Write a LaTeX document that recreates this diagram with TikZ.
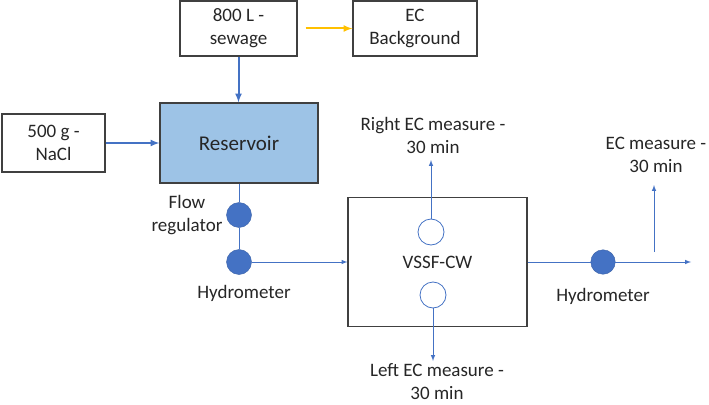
\documentclass[tikz,border=0pt]{standalone}
\usepackage{fontspec}
\setmainfont{Carlito}
\usetikzlibrary{arrows}
\definecolor{flowblue}{HTML}{4472C4}
\definecolor{resblue}{HTML}{9DC3E6}
\definecolor{bgorange}{HTML}{FFC000}
\definecolor{boxgray}{HTML}{404040}

\begin{document}
\begin{tikzpicture}[x=1pt,y=-1pt]
		\tikzset{txt/.style={font=\fontsize{19}{23}\selectfont,text=black!85,align=center,inner sep=0pt},
			box/.style={txt,draw=boxgray,line width=1.2pt},
			pipe/.style={flowblue,line width=1pt},
			feed/.style={flowblue,line width=2pt,-latex},
			dot/.style={circle,fill=flowblue,draw=flowblue!85!black,minimum size=25pt,inner sep=0pt},
			port/.style={circle,draw=flowblue,fill=white,line width=0.8pt,minimum size=26pt,inner sep=0pt}};
		\useasboundingbox (0,0) rectangle (709,404);
		% inputs
		\node[box,minimum width=117pt,minimum height=55pt] (sewage) at (238.5,28.5) {800 L -\\sewage};
		\node[box,minimum width=124pt,minimum height=55pt] (ecbg) at (415,28.5) {EC\\Background};
		\node[box,fill=resblue,minimum width=158pt,minimum height=80pt,font=\fontsize{21}{25}\selectfont] (res) at (239,143) {Reservoir};
		\node[box,minimum width=103pt,minimum height=58pt] (nacl) at (53.5,143) {500 g -\\NaCl};
		\draw[feed] (sewage.south) -- (sewage.south |- res.north);
		\draw[feed] (nacl) -- (res);
		\draw[bgorange,line width=2pt,-latex,shorten <=8pt] (sewage) -- (ecbg);
		% feed line
		\node[dot] (flowreg) at (239,215) {};
		\node[dot] (hydroin) at (239,262) {};
		\node[txt] (flowlbl) at (187,215) {Flow\\regulator};
		\node[txt] (hydroinlbl) at (244,293) {Hydrometer};
		\draw[pipe] (res) -- (flowreg) -- (hydroin);
		% wetland
		\node[box,minimum width=179pt,minimum height=129pt] (vssf) at (437.5,262) {VSSF-CW};
		\draw[pipe,-latex] (hydroin) -- (vssf);
		\node[port] (rport) at (431,232) {};
		\node[port] (lport) at (433,295) {};
		\coordinate (rtip) at (431,160);
		\coordinate (ltip) at (433,361);
		\draw[pipe,-latex] (rport) -- (rtip);
		\draw[pipe,-latex] (lport) -- (ltip);
		\node[txt] (rlbl) at (433,135) {Right EC measure -\\30 min};
		\node[txt] (llbl) at (437,382) {Left EC measure -\\30 min};
		% outlet
		\node[dot,minimum size=24.5pt] (hydroout) at (603,262) {};
		\node[txt] (hydrooutlbl) at (603,296) {Hydrometer};
		\coordinate (outtip) at (691,262);
		\coordinate (ecfoot) at (654,252);
		\coordinate (ectip) at (654,185);
		\draw[pipe] (vssf) -- (hydroout);
		\draw[pipe,-latex] (hydroout) -- (outtip);
		\draw[pipe,-latex] (ecfoot) -- (ectip);
		\node[txt] (eclbl) at (656,155) {EC measure -\\30 min};
	\end{tikzpicture}
\end{document}
